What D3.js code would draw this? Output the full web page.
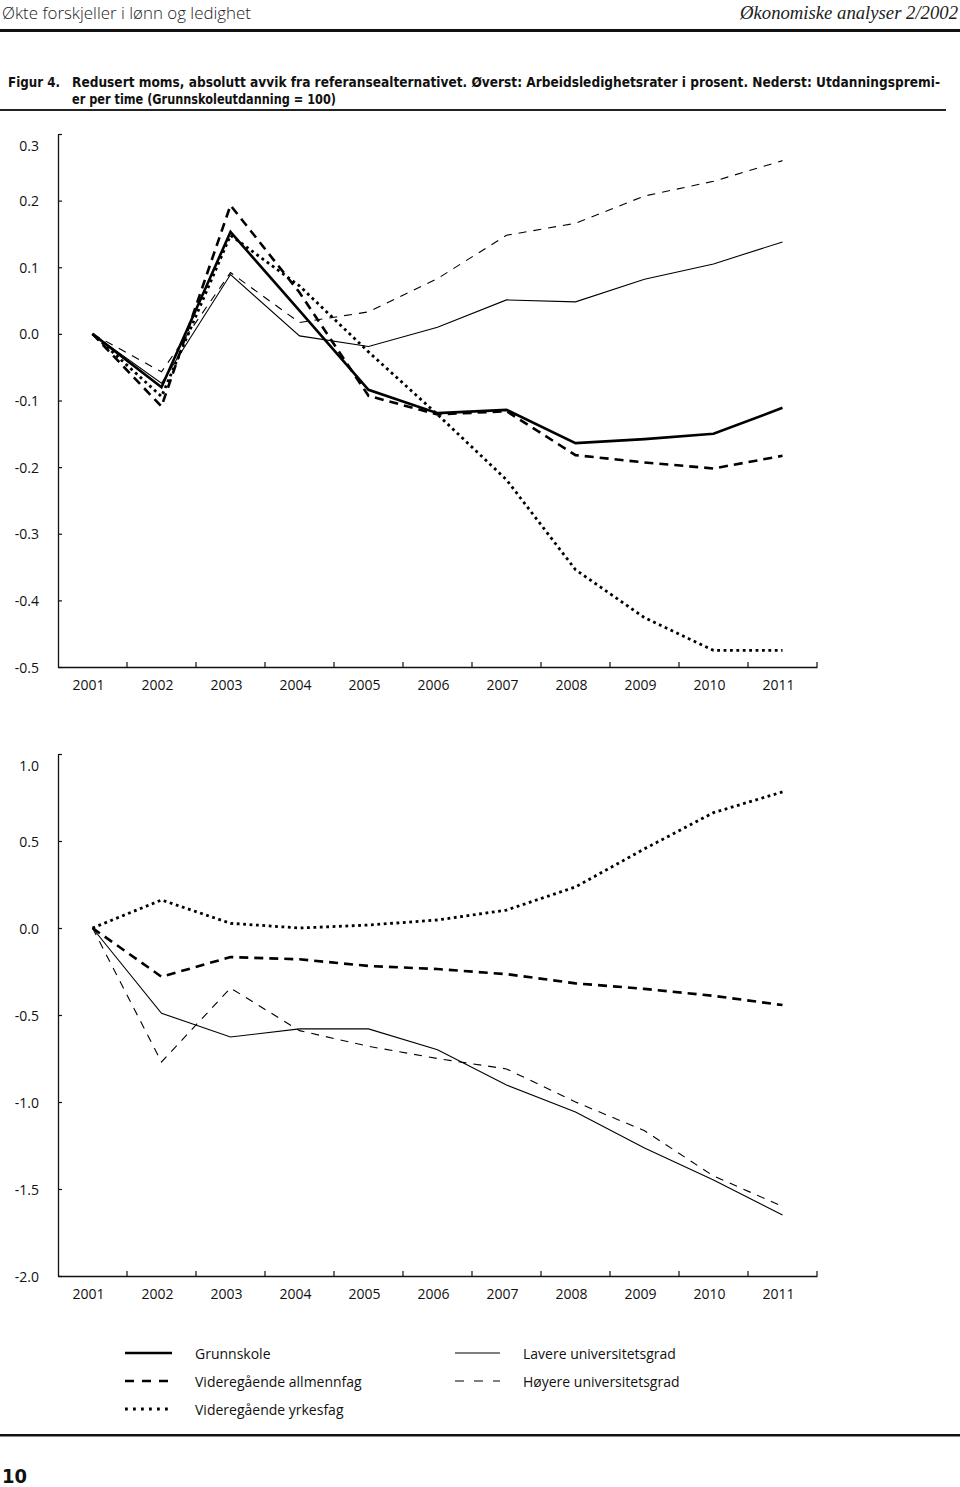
<!DOCTYPE html>
<html><head><meta charset="utf-8">
<script src="https://cdn.jsdelivr.net/npm/d3@7"></script>
<style>
html,body{margin:0;padding:0;background:#fff;}
svg{display:block;}
.tick text{font-family:"Open Sans","Noto Sans",sans-serif;font-size:14px;fill:#111;}
</style>
</head><body>
<svg id="c" width="960" height="1487"></svg>
<script>
// ---- data ----
const years = ["2001","2002","2003","2004","2005","2006","2007","2008","2009","2010","2011"];
const seriesNames = ["Grunnskole","Videregående allmennfag","Videregående yrkesfag","Lavere universitetsgrad","Høyere universitetsgrad"];
// Top panel: unemployment rates, percent points deviation
const topGrunnskole = [0, -0.080, 0.153, 0.035, -0.084, -0.119, -0.114, -0.164, -0.158, -0.150, -0.111];
const topAllmennfag = [0, -0.109, 0.193, 0.062, -0.093, -0.121, -0.116, -0.182, -0.193, -0.202, -0.183];
const topYrkesfag   = [0, -0.094, 0.148, 0.072, -0.027, -0.121, -0.219, -0.354, -0.426, -0.475, -0.475];
const topLavere     = [0, -0.074, 0.089, -0.003, -0.019, 0.010, 0.051, 0.048, 0.082, 0.105, 0.138];
const topHoyere     = [0, -0.057, 0.092, 0.017, 0.033, 0.083, 0.148, 0.166, 0.207, 0.229, 0.260];
// Bottom panel: education premiums (Grunnskole = 100)
const botAllmennfag = [0, -0.280, -0.167, -0.180, -0.218, -0.236, -0.265, -0.318, -0.350, -0.390, -0.443];
const botYrkesfag   = [0, 0.161, 0.027, 0.000, 0.017, 0.046, 0.103, 0.236, 0.455, 0.663, 0.782];
const botLavere     = [0, -0.490, -0.626, -0.580, -0.580, -0.700, -0.902, -1.058, -1.265, -1.448, -1.650];
const botHoyere     = [0, -0.770, -0.345, -0.590, -0.680, -0.750, -0.810, -1.000, -1.165, -1.425, -1.600];
const topTicks = [0.3, 0.2, 0.1, 0.0, -0.1, -0.2, -0.3, -0.4, -0.5];
const botTicks = [1.0, 0.5, 0.0, -0.5, -1.0, -1.5, -2.0];

// ---- styles ----
const styles = {
  "Grunnskole": {w:2.6, dash:null},
  "Videregående allmennfag": {w:2.6, dash:"9,6"},
  "Videregående yrkesfag": {w:2.8, dash:"2.8,3.6"},
  "Lavere universitetsgrad": {w:1.1, dash:null},
  "Høyere universitetsgrad": {w:1.1, dash:"8,7"}
};
const drawOrder = ["Lavere universitetsgrad","Høyere universitetsgrad","Videregående yrkesfag","Videregående allmennfag","Grunnskole"];

const svg = d3.select("#c");
const sans = '"Open Sans","Noto Sans",sans-serif';
const narrow = '"Liberation Sans Narrow","DejaVu Sans Condensed","Liberation Sans",sans-serif';
const fmt = v => d3.format(".1f")(v).replace("\u2212", "-");

// ---- header ----
svg.append("text").attr("x",2).attr("y",19).text("Økte forskjeller i lønn og ledighet")
  .attr("font-family",sans).attr("font-size",17).attr("font-weight",300).attr("fill","#222")
  .attr("textLength",249).attr("lengthAdjust","spacingAndGlyphs");
svg.append("text").attr("x",958).attr("y",19).attr("text-anchor","end").text("Økonomiske analyser 2/2002")
  .attr("font-family",'"Liberation Serif","DejaVu Serif",serif').attr("font-style","italic").attr("font-size",18).attr("fill","#222")
  .attr("textLength",218).attr("lengthAdjust","spacingAndGlyphs");
svg.append("rect").attr("x",0).attr("y",29).attr("width",960).attr("height",3).attr("fill","#111");

const titleParts = [
  {t:"Figur 4.", x:8, y:87, w:52},
  {t:"Redusert moms, absolutt avvik fra referansealternativet. Øverst: Arbeidsledighetsrater i prosent. Nederst: Utdanningspremi-", x:72, y:87, w:868},
  {t:"er per time (Grunnskoleutdanning = 100)", x:72, y:104, w:264}
];
titleParts.forEach(p => {
  svg.append("g").attr("transform", `translate(${p.x},${p.y}) scale(1,1.12)`)
    .append("text").attr("x",0).attr("y",0).text(p.t)
    .attr("font-family",narrow).attr("font-weight","bold").attr("font-size",12.8).attr("fill","#111")
    .attr("textLength",p.w).attr("lengthAdjust","spacingAndGlyphs");
});
svg.append("rect").attr("x",0).attr("y",109).attr("width",946).attr("height",2).attr("fill","#222");

// ---- panels ----
const x = d3.scaleBand().domain(years).range([58, 817]).padding(0);
const cx = d => x(d) + x.bandwidth()/2;

function panel(yDomain, yRange, ticks, seriesMap) {
  const y = d3.scaleLinear().domain(yDomain).range(yRange);
  const g = svg.append("g");
  // y axis
  const ya = g.append("g").attr("transform", `translate(58,0)`)
    .call(d3.axisLeft(y).tickValues(ticks).tickFormat(fmt).tickSize(-4).tickSizeOuter(0).tickPadding(19));
  ya.select(".domain").attr("stroke","#111").attr("stroke-width",1.3);
  ya.selectAll(".tick line").attr("stroke","#111").attr("stroke-width",1.2);
  ya.selectAll(".tick text").attr("dy","0.36em");
  ya.selectAll(".tick").filter(d => d === ticks[0]).select("text").attr("dy","1.15em");
  // x axis line + labels
  const y0 = yRange[0];
  const xa = g.append("g").attr("transform", `translate(0,${y0})`)
    .call(d3.axisBottom(x).tickSize(0).tickSizeOuter(0).tickPadding(13));
  xa.select(".domain").attr("stroke","#111").attr("stroke-width",1.3);
  xa.selectAll(".tick text").attr("dx","-4px");
  // boundary ticks (inside, pointing up)
  const bounds = years.slice(1).map(d => x(d)).concat([x.range()[1]]);
  g.append("g").selectAll("line").data(bounds).join("line")
    .attr("x1", d => d).attr("x2", d => d).attr("y1", y0).attr("y2", y0 - 5)
    .attr("stroke","#111").attr("stroke-width",1.2);
  // lines
  const line = d3.line().x((v,i) => cx(years[i])).y(v => y(v));
  drawOrder.forEach(name => {
    if (!seriesMap[name]) return;
    const s = styles[name];
    g.append("path").datum(seriesMap[name]).attr("d", line)
      .attr("fill","none").attr("stroke","#000").attr("stroke-width", s.w)
      .attr("stroke-dasharray", s.dash).attr("stroke-linejoin","miter");
  });
}

panel([-0.5, 0.3], [667, 134], topTicks, {
  "Grunnskole": topGrunnskole,
  "Videregående allmennfag": topAllmennfag,
  "Videregående yrkesfag": topYrkesfag,
  "Lavere universitetsgrad": topLavere,
  "Høyere universitetsgrad": topHoyere
});

panel([-2.0, 1.0], [1276, 754], botTicks, {
  "Videregående allmennfag": botAllmennfag,
  "Videregående yrkesfag": botYrkesfag,
  "Lavere universitetsgrad": botLavere,
  "Høyere universitetsgrad": botHoyere
});

// ---- legend ----
const legCols = [[0,1,2],[3,4]];
const legX = [[125,172,195],[455,500,523]];
legCols.forEach((col, ci) => {
  col.forEach((si, ri) => {
    const name = seriesNames[si];
    const s = styles[name];
    const yy = 1353 + ri*28;
    svg.append("line").attr("x1",legX[ci][0]).attr("x2",legX[ci][1]).attr("y1",yy).attr("y2",yy)
      .attr("stroke","#000").attr("stroke-width",s.w)
      .attr("stroke-dasharray", s.dash ? (si===2 ? "2.8,5.2" : (si===1 ? "9,8" : "9,10")) : null);
    svg.append("text").attr("x",legX[ci][2]).attr("y",yy+6).text(name)
      .attr("font-family",sans).attr("font-size",14).attr("fill","#111");
  });
});

// ---- footer ----
svg.append("rect").attr("x",0).attr("y",1434).attr("width",960).attr("height",2.5).attr("fill","#111");
svg.append("text").attr("x",2).attr("y",1483).text("10")
  .attr("font-family",narrow).attr("font-weight","bold").attr("font-size",20).attr("fill","#111");
</script>
</body></html>
